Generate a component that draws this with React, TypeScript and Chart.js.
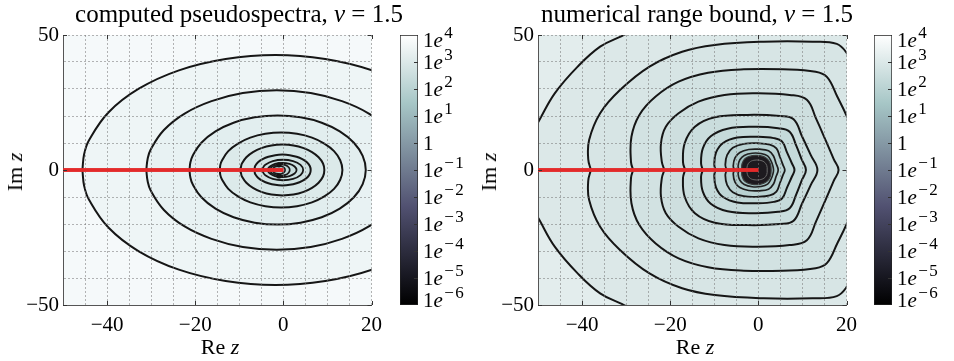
import React, { useEffect, useRef } from 'react';
import { Chart, registerables } from 'chart.js';

Chart.register(...registerables);

const FONT = '"Liberation Serif", "Times New Roman", serif';
Chart.defaults.font.family = FONT;

// ---------- axes ----------
const xRange = [-50, 20];
const yRange = [-50, 50];
const xGridStep = 5;
const yGridStep = 10;
const xTickLabels = [-40, -20, 0, 20];
const yTickLabels = [-50, 0, 50];
const colorbarRange = [1e-6, 1e4];
const colorbarExponents = [4, 3, 2, 1, 0, -1, -2, -3, -4, -5, -6];

// ---------- red branch cut ----------
const branchCut: [number, number][] = [[-50, 0], [0, 0]];

// ---------- left panel: computed pseudospectra (upper halves, symmetric in Im z) ----------
const pseudoC1: [number, number][] = [[-45.6, 0], [-45.2, 5.9], [-44.1, 11.0], [-39.7, 21.3], [-32.8, 30.1], [-23.7, 36.9], [-13.1, 41.1], [-1.8, 42.6], [9.5, 41.1], [20.1, 36.9], [29.2, 30.1], [36.1, 21.3], [42.0, 0]];
const pseudoC2: [number, number][] = [[-31.1, 0], [-30.8, 4.1], [-30.1, 7.6], [-27.1, 14.8], [-22.4, 20.9], [-16.3, 25.5], [-9.2, 28.5], [-1.5, 29.5], [6.2, 28.5], [13.3, 25.5], [19.4, 20.9], [24.1, 14.8], [27.1, 7.6], [28.1, 0]];
const pseudoC3: [number, number][] = [[-21.3, 0], [-21.1, 2.8], [-20.6, 5.2], [-18.6, 10.1], [-15.4, 14.3], [-11.3, 17.5], [-6.5, 19.5], [-1.3, 20.2], [3.9, 19.5], [8.7, 17.5], [12.8, 14.3], [16.0, 10.1], [18.0, 5.2], [18.7, 0]];
const pseudoC4: [number, number][] = [[-14.4, 0], [-14.3, 1.9], [-13.9, 3.6], [-12.5, 7.0], [-10.3, 9.8], [-7.5, 12.0], [-4.1, 13.4], [-0.5, 13.9], [3.1, 13.4], [6.5, 12.0], [9.3, 9.8], [11.5, 7.0], [12.9, 3.6], [13.4, 0]];
const pseudoC5: [number, number][] = [[-9.7, 0], [-9.6, 1.3], [-9.4, 2.4], [-8.4, 4.7], [-6.9, 6.6], [-5.0, 8.1], [-2.7, 9.1], [-0.2, 9.4], [2.3, 9.1], [4.6, 8.1], [6.5, 6.6], [8.0, 4.7], [9.0, 2.4], [9.3, 0]];
const pseudoC6: [number, number][] = [[-6.6, 0], [-6.5, 0.8], [-6.4, 1.5], [-5.75, 2.85], [-4.7, 4.0], [-3.4, 4.9], [-1.85, 5.5], [-0.2, 5.7], [1.45, 5.5], [3.0, 4.9], [4.3, 4.0], [5.35, 2.85], [6.0, 1.5], [6.2, 0]];
const pseudoC7: [number, number][] = [[-4.7, 0], [-4.6, 0.9], [-4.1, 1.9], [-2.4, 3.3], [-0.1, 3.8], [2.2, 3.3], [3.9, 1.9], [4.5, 0]];
const pseudoC8: [number, number][] = [[-3.5, 0], [-3.45, 0.6], [-3.05, 1.3], [-1.9, 2.25], [-0.25, 2.6], [1.4, 2.25], [2.55, 1.3], [3.0, 0]];
const pseudoC9: [number, number][] = [[-3.0, 0], [-2.9, 0.6], [-2.6, 1.2], [-1.7, 1.85], [-0.6, 2.05], [0.5, 1.8], [1.2, 1.0], [1.45, 0]];
const pseudoC10: [number, number][] = [[-2.4, 0], [-2.3, 0.6], [-2.0, 1.1], [-1.2, 1.45], [-0.4, 1.35], [0.2, 0.8], [0.4, 0]];
const pseudoBlobs: [number, number][] = [[-1.0, 1.9], [-1.0, -2.2]];

// ---------- right panel: numerical range bound (upper halves) ----------
const boundR1: [number, number][] = [[-54, 0], [-53.2, 8], [-51.5, 13.5], [-49.9, 17.9], [-46.2, 28.4], [-41, 38.3], [-35.9, 45.7], [-31, 49.6], [-26, 53.5], [-10, 60], [30, 60], [30, 0]];
const boundR2: [number, number][] = [[-38.0, 0], [-38.6, 4], [-38.4, 11.1], [-35.9, 21], [-31.4, 29.6], [-24.7, 38.3], [-17.3, 43.8], [-9.9, 46.3], [1.2, 47.5], [12.3, 47.5], [17.8, 46.7], [20.1, 43.2], [23, 35], [25, 0]];
const boundR3: [number, number][] = [[-28.4, 0], [-28.9, 3], [-28.8, 12.3], [-27, 20.4], [-23.3, 27.2], [-18.1, 32.7], [-11.4, 36], [-3.3, 37.3], [5.6, 37.3], [13, 36.4], [15.6, 34.4], [17.9, 27.2], [20.1, 19.8], [22.5, 10], [23.5, 0]];
const boundR4: [number, number][] = [[-21.3, 0], [-21.9, 3], [-22.1, 9.9], [-21, 16], [-18.1, 21], [-13.6, 25.3], [-7.7, 27.8], [-0.3, 28.4], [7.1, 27.8], [11.0, 26.0], [13.1, 19], [15.4, 10.5], [17.1, 4], [18.2, 0]];
const boundR5: [number, number][] = [[-16.6, 0], [-17.1, 3], [-16.7, 10], [-14.4, 16], [-9.9, 19.5], [-2.5, 20.4], [4.9, 20], [8.0, 18.8], [9.9, 12.5], [11.9, 5.5], [13.4, 0]];
const boundR6: [number, number][] = [[-12.6, 0], [-13, 2.5], [-12.6, 8], [-10.8, 12.5], [-7, 15.3], [-1, 16], [4.5, 15.5], [7.1, 14.2], [8.6, 9], [9.8, 4], [10.8, 0]];
const boundR7: [number, number][] = [[-9.7, 0], [-10, 2], [-9.6, 6.5], [-8, 10], [-4.8, 12], [0, 12.3], [3.5, 11.8], [5.4, 10.5], [6.5, 6.5], [7.6, 2.5], [8.2, 0]];
const boundR8: [number, number][] = [[-7.2, 0], [-7.5, 2], [-7.1, 5.5], [-5.8, 8.2], [-3.3, 9.7], [0, 9.9], [2.6, 9.4], [4.1, 8], [4.9, 4.8], [5.6, 1.8], [6, 0]];
const boundR9: [number, number][] = [[-5.4, 0], [-5.7, 1.5], [-5.3, 4.5], [-4.2, 6.5], [-2.2, 7.6], [0.3, 7.7], [2.3, 7.1], [3.4, 5.3], [4.0, 2.5], [4.5, 0]];
const boundR10: [number, number][] = [[-4.4, 0], [-4.6, 1.5], [-4.2, 3.8], [-3.2, 5.4], [-1.4, 6.2], [0.6, 6.1], [2.1, 5.2], [2.9, 3.3], [3.3, 1.5], [3.45, 0]];
const boundCore: [number, number][] = [[-3.8, 0], [-3.7, 2.3], [-3.0, 4.3], [-1.4, 5.3], [0.4, 5.3], [1.9, 4.3], [2.7, 2.4], [2.9, 0]];
const boundCoreRing: [number, number][] = [[-2.6, 0], [-2.5, 1.6], [-2, 2.9], [-1, 3.6], [0.3, 3.6], [1.3, 3], [1.9, 1.7], [2.0, 0]];

// ---------- styles ----------
const leftBackground = '#f5f9fa';
const leftContours = [pseudoC1, pseudoC2, pseudoC3, pseudoC4, pseudoC5, pseudoC6, pseudoC7, pseudoC8, pseudoC9, pseudoC10];
const leftFills = ['#eef5f6', '#e8f2f3', '#e2eeef', '#dceaea', '#d6e6e6', '#d1e3e3', '#cce0e0', '#c7dcdc', '#c0d7d7', '#b6d0d0'];
const leftLines = ['#161616', '#161616', '#161616', '#161616', '#161616', '#161616', '#161616', '#161616', '#1a1a1a', '#1a1a1a'];
const leftWidths = [2, 2, 2, 2, 2, 2, 1.8, 1.8, 1.7, 1.6];

const rightBackground = '#e3eded';
const rightContours = [boundR1, boundR2, boundR3, boundR4, boundR5, boundR6, boundR7, boundR8, boundR9, boundR10, boundCore, boundCoreRing];
const rightFills = ['#dce8e8', '#d7e5e5', '#d2e2e2', '#cedfdf', '#cadddd', '#c5dada', '#c0d7d7', '#b9d2d2', '#afcbcb', '#9fbfbf', '#1d1a1f', '#1d1a1f'];
const rightLines = ['#161616', '#161616', '#161616', '#161616', '#161616', '#161616', '#161616', '#1a1a1a', '#1e1e1e', '#222222', '#3a3a3a', '#6a6a6a'];
const rightWidths = [2, 2, 2, 2, 2, 2, 2, 1.8, 1.7, 1.6, 1.2, 1];

const boneStops: [number, string][] = [[0, '#000000'], [0.365, 'rgb(81,81,113)'], [0.746, 'rgb(166,198,198)'], [1, '#ffffff']];
const gridColor = 'rgba(120,120,120,0.55)';

type P = [number, number];

function closeLoop(upper: P[]) {
  const pts = upper.map(([x, y]) => ({ x, y }));
  for (let i = upper.length - 2; i >= 0; i--) pts.push({ x: upper[i][0], y: -upper[i][1] });
  return pts;
}

function fmt(v: number) {
  return v < 0 ? '\u2212' + Math.abs(v) : String(v);
}

function hasTick(list: number[], v: number) {
  return list.some((t) => Math.abs(t - v) < 1e-9);
}

function buildDatasets(contours: P[][], fills: string[], lines: string[], widths: number[], blobs: P[] | null) {
  const ds: any[] = [
    {
      data: branchCut.map(([x, y]) => ({ x, y })),
      borderColor: '#e32a2a',
      borderWidth: 3.6,
      borderCapStyle: 'butt',
      fill: false,
      tension: 0,
      pointRadius: 0,
      order: 0,
      clip: 0,
    },
  ];
  if (blobs) {
    ds.push({
      data: blobs.map(([x, y]) => ({ x, y })),
      showLine: false,
      pointRadius: 2.6,
      pointBackgroundColor: '#141414',
      pointBorderWidth: 0,
      order: 1,
      clip: 0,
    });
  }
  contours.forEach((c, i) => {
    ds.push({
      data: closeLoop(c),
      fill: 'shape',
      backgroundColor: fills[i],
      borderColor: lines[i],
      borderWidth: widths[i],
      pointRadius: 0,
      tension: 0.4,
      order: 100 - i,
      clip: 0,
    });
  });
  return ds;
}

function plotOptions(): any {
  const tickFont = { family: FONT, size: 21, style: 'normal', weight: 'normal' };
  return {
    animation: false,
    responsive: false,
    events: [],
    font: { family: FONT },
    layout: { padding: { top: 35, right: 12, bottom: 0, left: 0 } },
    plugins: { legend: { display: false }, tooltip: { enabled: false }, title: { display: false } },
    elements: {
      line: { capBezierPoints: false, borderJoinStyle: 'round' },
      point: { radius: 0, hoverRadius: 0 },
    },
    scales: {
      x: {
        type: 'linear',
        min: xRange[0],
        max: xRange[1],
        afterFit: (s: any) => { s.height = 56; },
        ticks: {
          stepSize: xGridStep,
          autoSkip: false,
          maxRotation: 0,
          padding: 8,
          color: '#000',
          font: tickFont,
          callback: (v: number) => (hasTick(xTickLabels, v) ? fmt(v) : ''),
        },
        grid: { color: gridColor, lineWidth: 1, drawTicks: false, z: 1 },
        border: { display: true, color: '#555', width: 1, dash: [2, 2], z: 2 },
      },
      y: {
        type: 'linear',
        min: yRange[0],
        max: yRange[1],
        afterFit: (s: any) => { s.width = 63; },
        ticks: {
          stepSize: yGridStep,
          autoSkip: false,
          padding: 4,
          color: '#000',
          font: tickFont,
          callback: (v: number) => (hasTick(yTickLabels, v) ? fmt(v) : ''),
        },
        grid: {
          color: (ctx: any) => (ctx.tick && Math.abs(ctx.tick.value) < 1e-9 ? 'rgba(0,0,0,0)' : gridColor),
          lineWidth: 1,
          drawTicks: false,
          z: 1,
        },
        border: { display: true, color: '#555', width: 1, dash: [2, 2], z: 2 },
      },
    },
  };
}

function bgPlugin(color: string) {
  return {
    id: 'panelBg',
    beforeDraw(chart: any) {
      const a = chart.chartArea;
      const ctx = chart.ctx;
      ctx.save();
      ctx.fillStyle = color;
      ctx.fillRect(a.left, a.top, a.right - a.left, a.bottom - a.top);
      ctx.restore();
    },
  };
}

const frameTicksPlugin = {
  id: 'frameTicks',
  afterDraw(chart: any) {
    const { ctx, chartArea: a, scales } = chart;
    ctx.save();
    // red branch cut on top of the grid
    const meta = chart.getDatasetMeta(0);
    ctx.beginPath();
    ctx.rect(a.left, a.top, a.right - a.left, a.bottom - a.top);
    ctx.clip();
    meta.dataset.draw(ctx, a);
    ctx.restore();
    ctx.save();
    ctx.strokeStyle = '#333';
    ctx.lineWidth = 1;
    xTickLabels.forEach((v) => {
      const px = Math.round(scales.x.getPixelForValue(v)) + 0.5;
      ctx.beginPath();
      ctx.moveTo(px, a.bottom); ctx.lineTo(px, a.bottom - 4);
      ctx.moveTo(px, a.top); ctx.lineTo(px, a.top + 4);
      ctx.stroke();
    });
    yTickLabels.forEach((v) => {
      const py = Math.round(scales.y.getPixelForValue(v)) + 0.5;
      ctx.beginPath();
      ctx.moveTo(a.left, py); ctx.lineTo(a.left + 4, py);
      ctx.moveTo(a.right, py); ctx.lineTo(a.right - 4, py);
      ctx.stroke();
    });
    ctx.restore();
  },
};

function PlotChart({ left, background, contours, fills, lines, widths, blobs }: any) {
  const ref = useRef<HTMLCanvasElement>(null);
  useEffect(() => {
    const chart = new Chart(ref.current as HTMLCanvasElement, {
      type: 'line',
      data: { datasets: buildDatasets(contours, fills, lines, widths, blobs) },
      options: plotOptions(),
      plugins: [bgPlugin(background), frameTicksPlugin],
    } as any);
    return () => chart.destroy();
  }, []);
  return (
    <canvas
      ref={ref}
      width={390}
      height={361}
      style={{ position: 'absolute', left, top: 0, width: 390, height: 361 }}
    />
  );
}

const colorbarLabelsPlugin = {
  id: 'cbLabels',
  afterDraw(chart: any) {
    const ctx = chart.ctx;
    const ys = chart.scales.y;
    const a = chart.chartArea;
    ctx.save();
    ctx.strokeStyle = '#333';
    ctx.lineWidth = 1;
    ctx.fillStyle = '#000';
    ctx.textAlign = 'left';
    ctx.textBaseline = 'alphabetic';
    colorbarExponents.forEach((e, i) => {
      const y = ys.getPixelForValue(Math.pow(10, e));
      if (i > 0 && i < colorbarExponents.length - 1) {
        const py = Math.round(y) + 0.5;
        ctx.beginPath();
        ctx.moveTo(a.right - 4, py);
        ctx.lineTo(a.right, py);
        ctx.stroke();
      }
      const shift = i === 0 ? 5 : i === colorbarExponents.length - 1 ? -5 : 0;
      const base = y + 7 + shift;
      let x = a.right + 5;
      ctx.font = `21px ${FONT}`;
      ctx.fillText('1', x, base);
      x += ctx.measureText('1').width;
      if (e !== 0) {
        ctx.font = `italic 21px ${FONT}`;
        ctx.fillText('e', x, base);
        x += ctx.measureText('e').width + 1.5;
        ctx.font = `17px ${FONT}`;
        ctx.fillText(e < 0 ? '\u2212\u200a' + -e : String(e), x, base - 9);
      }
    });
    ctx.restore();
  },
};

function ColorBar({ left }: { left: number }) {
  const ref = useRef<HTMLCanvasElement>(null);
  useEffect(() => {
    const chart = new Chart(ref.current as HTMLCanvasElement, {
      type: 'bar',
      data: {
        labels: [''],
        datasets: [
          {
            data: [[colorbarRange[0], colorbarRange[1]]],
            backgroundColor: (c: any) => {
              const area = c.chart.chartArea;
              if (!area) return '#888';
              const g = c.chart.ctx.createLinearGradient(0, area.bottom, 0, area.top);
              boneStops.forEach(([t, col]) => g.addColorStop(t, col));
              return g;
            },
            borderColor: '#222',
            borderWidth: 1,
            borderSkipped: false,
            barPercentage: 1,
            categoryPercentage: 1,
          },
        ],
      },
      options: {
        animation: false,
        responsive: false,
        events: [],
        layout: { padding: { left: 10, right: 56, top: 35, bottom: 56 } },
        plugins: { legend: { display: false }, tooltip: { enabled: false } },
        scales: {
          x: { display: false },
          y: { type: 'logarithmic', min: colorbarRange[0], max: colorbarRange[1], display: false },
        },
      },
      plugins: [colorbarLabelsPlugin],
    } as any);
    return () => chart.destroy();
  }, []);
  return (
    <canvas
      ref={ref}
      width={84}
      height={361}
      style={{ position: 'absolute', left, top: 0, width: 84, height: 361 }}
    />
  );
}

const textBase: React.CSSProperties = {
  position: 'absolute',
  fontFamily: FONT,
  color: '#000',
  whiteSpace: 'nowrap',
  lineHeight: 1,
};

function Title({ cx, children }: any) {
  return (
    <div style={{ ...textBase, left: cx, top: 1, fontSize: 25, transform: 'translateX(-50%)' }}>{children}</div>
  );
}

function XLabel({ cx }: { cx: number }) {
  return (
    <div style={{ ...textBase, left: cx, top: 336, fontSize: 22, transform: 'translateX(-50%)' }}>
      Re <i>z</i>
    </div>
  );
}

function YLabel({ cx }: { cx: number }) {
  return (
    <div style={{ ...textBase, left: cx, top: 172, fontSize: 22, transform: 'translate(-50%,-50%) rotate(-90deg)' }}>
      Im <i>z</i>
    </div>
  );
}

export default function App() {
  return (
    <div style={{ position: 'fixed', left: 0, top: 0, width: 954, height: 361, overflow: 'hidden', background: '#fff' }}>
      <PlotChart
        left={0}
        background={leftBackground}
        contours={leftContours}
        fills={leftFills}
        lines={leftLines}
        widths={leftWidths}
        blobs={pseudoBlobs}
      />
      <ColorBar left={390} />
      <PlotChart
        left={475}
        background={rightBackground}
        contours={rightContours}
        fills={rightFills}
        lines={rightLines}
        widths={rightWidths}
        blobs={null}
      />
      <ColorBar left={864} />
      <Title cx={239}>
        computed pseudospectra, <i>ν</i> = 1.5
      </Title>
      <Title cx={697}>
        numerical range bound, <i>ν</i> = 1.5
      </Title>
      <XLabel cx={220} />
      <XLabel cx={695} />
      <YLabel cx={15} />
      <YLabel cx={489} />
    </div>
  );
}
